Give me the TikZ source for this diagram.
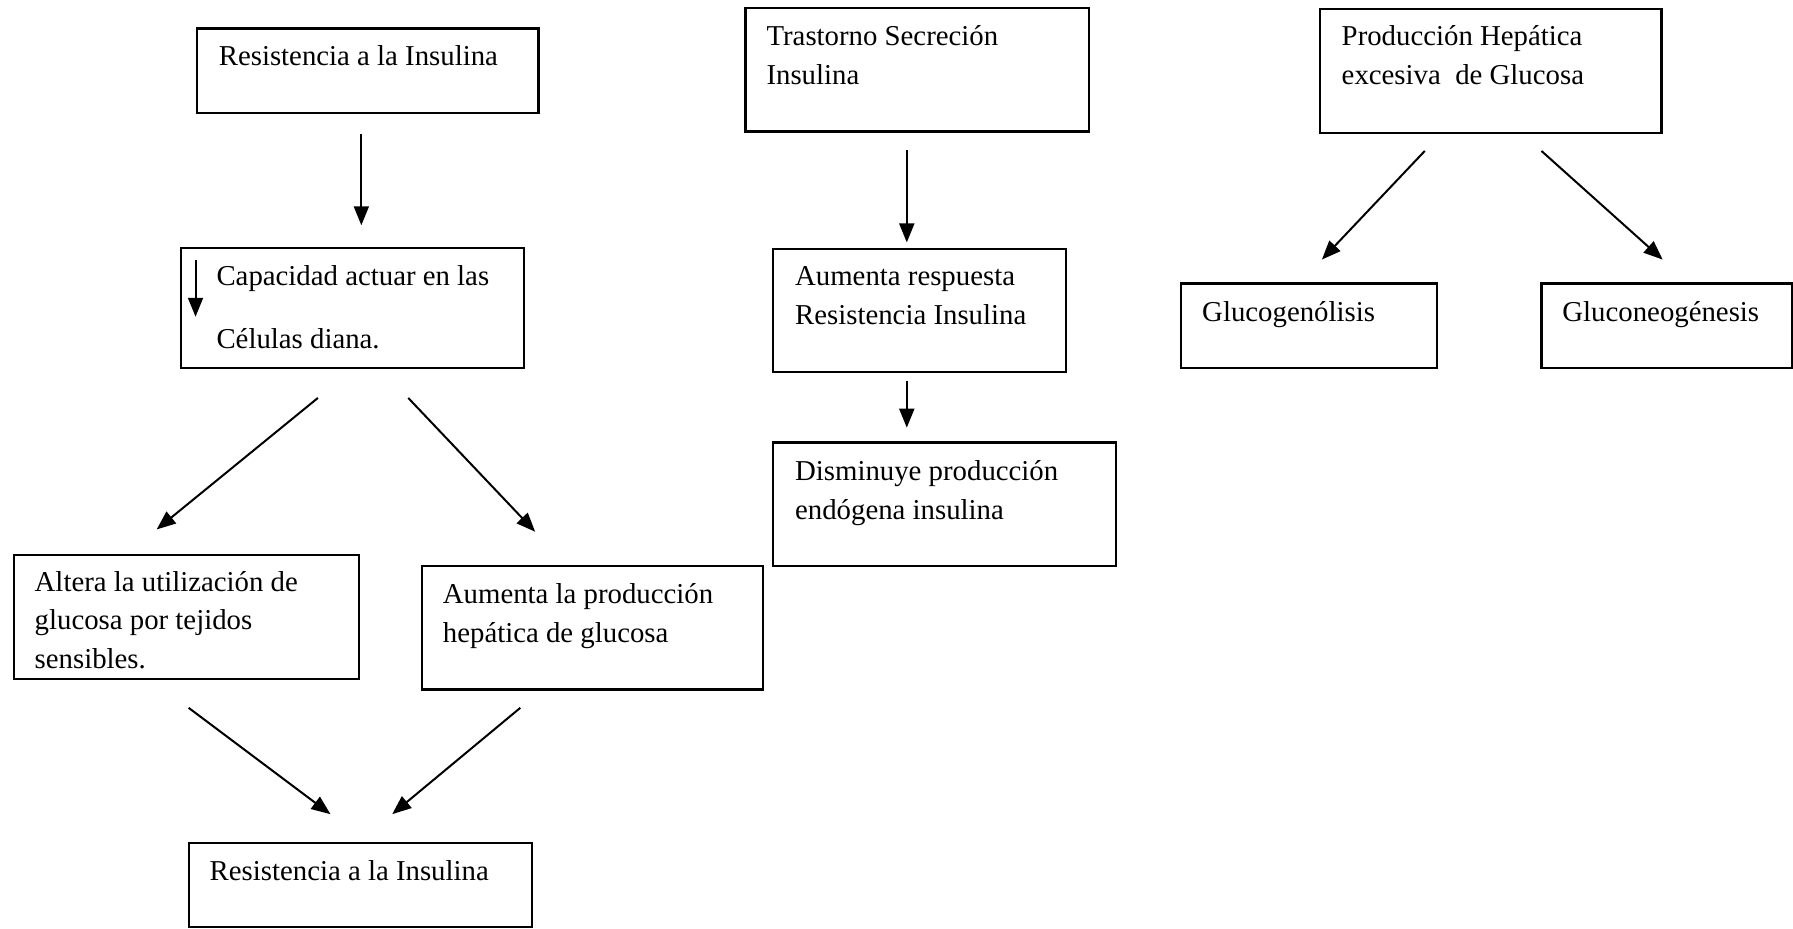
\documentclass[tikz,border=0pt]{standalone}
\usepackage{fontspec}
\setmainfont{Liberation Serif}
\usetikzlibrary{arrows.meta,fit}

\begin{document}
\begin{tikzpicture}[x=0.5718pt,y=-0.5718pt,
  box/.style={draw, line width=1.1pt, rectangle, inner sep=0pt},
  lbl/.style={anchor=base west, inner sep=0pt,
    font=\fontsize{14.4pt}{19.4pt}\selectfont},
  link/.style={line width=1pt, -{Triangle[length=9.5pt,width=7.5pt]}}]

\useasboundingbox (0,0) rectangle (1568,812);

\newcommand{\stack}[1]{\begin{tabular}[t]{@{}l@{}}#1\end{tabular}}

% ---- left column -------------------------------------------------
\node[box, fit={(172,25) (471,99)}] (A) {};
\node[lbl] (At) at (191,57) {Resistencia a la Insulina};

\node[box, fit={(158,217) (458,322)}] (B) {};
\node[lbl] (Bt) at (189,250) {\stack{Capacidad actuar en las\\[12pt] Células diana.}};

\node[box, fit={(12,485) (314,594)}] (C) {};
\node[lbl] (Ct) at (30,517) {\stack{Altera la utilización de\\ glucosa por tejidos\\ sensibles.}};

\node[box, fit={(369,495) (667,603)}] (D) {};
\node[lbl] (Dt) at (387,528) {\stack{Aumenta la producción\\ hepática de glucosa}};

\node[box, fit={(165,737) (465,811)}] (E) {};
\node[lbl] (Et) at (183,770) {Resistencia a la Insulina};

% ---- middle column -----------------------------------------------
\node[box, fit={(652,7) (952,115)}] (F) {};
\node[lbl] (Ft) at (670,40) {\stack{Trastorno Secreción\\ Insulina}};

\node[box, fit={(676,218) (932,325)}] (G) {};
\node[lbl] (Gt) at (695,250) {\stack{Aumenta respuesta\\ Resistencia Insulina}};

\node[box, fit={(676,387) (976,495)}] (H) {};
\node[lbl] (Ht) at (695,420) {\stack{Disminuye producción\\ endógena insulina}};

% ---- right column ------------------------------------------------
\node[box, fit={(1154,8) (1453,116)}] (I) {};
\node[lbl] (It) at (1173,40) {\stack{Producción Hepática\\ excesiva\ \ de Glucosa}};

\node[box, fit={(1033,248) (1257,322)}] (J) {};
\node[lbl] (Jt) at (1051,281) {Glucogenólisis};

\node[box, fit={(1348,248) (1567,322)}] (K) {};
\node[lbl] (Kt) at (1366,281) {Gluconeogénesis};

% ---- arrow end points --------------------------------------------
\coordinate (ab1) at (316,117);  \coordinate (ab2) at (316,197);
\coordinate (bc1) at (278,348);  \coordinate (bc2) at (137,463);
\coordinate (bd1) at (357,348);  \coordinate (bd2) at (468,465);
\coordinate (ce1) at (165,619);  \coordinate (ce2) at (289,712);
\coordinate (de1) at (455,619);  \coordinate (de2) at (343,712);
\coordinate (fg1) at (793,131);  \coordinate (fg2) at (793,212);
\coordinate (gh1) at (793,333);  \coordinate (gh2) at (793,374);
\coordinate (ij1) at (1246,132); \coordinate (ij2) at (1156,227);
\coordinate (ik1) at (1348,132); \coordinate (ik2) at (1454,227);
\coordinate (bs1) at (171,227);  \coordinate (bs2) at (171,277);

\draw[link] (ab1) -- (ab2);
\draw[link] (bc1) -- (bc2);
\draw[link] (bd1) -- (bd2);
\draw[link] (ce1) -- (ce2);
\draw[link] (de1) -- (de2);
\draw[link] (fg1) -- (fg2);
\draw[link] (gh1) -- (gh2);
\draw[link] (ij1) -- (ij2);
\draw[link] (ik1) -- (ik2);
\draw[link] (bs1) -- (bs2);

\end{tikzpicture}
\end{document}
